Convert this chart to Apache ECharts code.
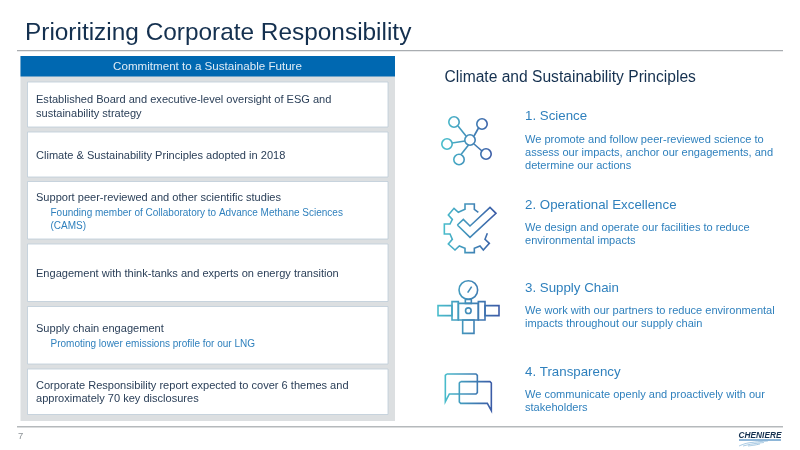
<!DOCTYPE html>
<html><head><meta charset="utf-8">
<style>html,body{margin:0;padding:0;background:#fff}#c{width:800px;height:450px}</style>
<script src="https://cdn.jsdelivr.net/npm/echarts@6/dist/echarts.min.js"></script>
</head><body><div id="c"></div>
<script>
var titleText = 'Prioritizing Corporate Responsibility';
var headerText = 'Commitment to a Sustainable Future';
var rightHeading = 'Climate and Sustainability Principles';
var pageNumber = '7';
var logoText = 'CHENIERE';
var leftBoxes = [
  {lines:['Established Board and executive-level oversight of ESG and','sustainability strategy'], sub:[]},
  {lines:['Climate & Sustainability Principles adopted in 2018'], sub:[]},
  {lines:['Support peer-reviewed and other scientific studies'], sub:['Founding member of Collaboratory to Advance Methane Sciences','(CAMS)']},
  {lines:['Engagement with think-tanks and experts on energy transition'], sub:[]},
  {lines:['Supply chain engagement'], sub:['Promoting lower emissions profile for our LNG']},
  {lines:['Corporate Responsibility report expected to cover 6 themes and','approximately 70 key disclosures'], sub:[]}
];
var principles = [
  {head:'1. Science', body:['We promote and follow peer-reviewed science to','assess our impacts, anchor our engagements, and','determine our actions']},
  {head:'2. Operational Excellence', body:['We design and operate our facilities to reduce','environmental impacts']},
  {head:'3. Supply Chain', body:['We work with our partners to reduce environmental','impacts throughout our supply chain']},
  {head:'4. Transparency', body:['We communicate openly and proactively with our','stakeholders']}
];

var FONT = '"Liberation Sans", Arial, sans-serif';
var DARK = '#14304f', BODY = '#2c4059', BLUE = '#2f80bd', HEADBLUE='#0068b1';
var els = [];
function rect(x,y,w,h,fill,stroke,lw){els.push({type:'rect',shape:{x:x,y:y,width:w,height:h},style:{fill:fill,stroke:stroke||null,lineWidth:lw||0},silent:true});}
function text(s,x,y,size,color,align,extra){els.push({type:'text',style:{text:s,x:x,y:y,fill:color,font:(extra||'')+' '+size+'px '+FONT,textAlign:align||'left',textVerticalAlign:'middle'},silent:true});}
function grad(x1,x2){return new echarts.graphic.LinearGradient(x1,0,x2,0,[{offset:0,color:'#48bccb'},{offset:1,color:'#3b5ba6'}],true);}
function ist(x1,x2){return {fill:'none',stroke:grad(x1,x2),lineWidth:1.6};}
function iCirc(cx,cy,r,a,b){els.push({type:'circle',shape:{cx:cx,cy:cy,r:r},style:ist(a,b),silent:true});}
function iPoly(pts,a,b){els.push({type:'polyline',shape:{points:pts},style:ist(a,b),silent:true});}
function iRect(x1,y1,x2,y2,a,b){els.push({type:'rect',shape:{x:x1,y:y1,width:x2-x1,height:y2-y1},style:ist(a,b),silent:true});}
function zp(ox,oy,pts){return pts.map(function(p){return [ox+p[0]/3,oy+p[1]/3];});}

// rules
rect(17,50,766,1.3,'#a9adb1');
rect(17,426,766,1.5,'#b5b9bc');
// left panel
rect(20.5,56,374.5,365,'#dcdfe1');
rect(20.5,56,374.5,20.5,HEADBLUE);
text(headerText,207.5,66.7,11.6,'#dfecf6','center');
var boxTops=[[82,127],[132,177],[181.5,239],[244,301.5],[306.5,364],[369,414.5]];
var lineYs=[[99.5,113.5],[155.5],[197.5],[274],[328.5],[385.5,398.5]];
var subYs=[[],[],[213.5,226.5],[],[344.5],[]];
leftBoxes.forEach(function(b,i){
  rect(27.5,boxTops[i][0],360.5,boxTops[i][1]-boxTops[i][0],'#fff','#bccbd8',0.8);
  b.lines.forEach(function(l,j){text(l,36,lineYs[i][j],11.05,BODY);});
  b.sub.forEach(function(l,j){text(l,50.5,subYs[i][j],10,BLUE);});
});
// title
text(titleText,25,33.5,24.4,DARK);
// right
text(rightHeading,444.5,77.5,15.6,DARK);
var headYs=[116,205,288,372];
var bodyYs=[[139.5,152.5,165.5],[227.5,240.5],[310.5,323.5],[394.5,407.5]];
principles.forEach(function(p,i){
  text(p.head,525,headYs[i],13.3,BLUE);
  p.body.forEach(function(l,j){text(l,525,bodyYs[i][j],11.05,BLUE);});
});
// icon 1: network
[[470,140,5.2],[454,122,5.2],[482,124,5.2],[447,144,5.2],[459,159.5,5.2],[486,154,5.2]].forEach(function(c){iCirc(c[0],c[1],c[2],445,492);});
[[[466,136],[458,126]],[[474,136],[478.5,128]],[[465,141],[452,143]],[[468.5,145],[461,154.5]],[[474,144],[482,151]]].forEach(function(l){iPoly(l,445,492);});
// icon 2: gear and check
iPoly(zp(430,100,[[145,337],[133,328],[133,312],[105,312],[105,328],[85,337],[72,325],[55,345],[67,358],[60,372],[43,372],[43,402],[60,402],[67,418],[55,432],[75,450],[88,438],[105,445],[105,458],[133,458],[133,445],[150,438],[160,450],[178,430],[165,418],[172,400]]),444,496);
iPoly(zp(430,100,[[82,375],[120,412],[198,340],[180,322],[120,378],[100,358],[82,375]]),444,496);
// icon 3: valve
function zr(a,b,c,d){iRect(430+a/3,270+b/3,430+c/3,270+d/3,438,499);}
iCirc(430+115/3,270+60/3,9.3,438,499);
iCirc(430+115/3,270+122/3,2.8,438,499);
iPoly(zp(430,270,[[113,68],[125,50]]),438,499);
zr(106,88,124,100);zr(85,100,145,150);zr(66,95,85,150);zr(145,95,165,150);zr(24,107,66,137);zr(165,107,207,137);zr(98,150,132,190);
// icon 4: speech bubbles
iPoly(zp(430,270,[[50,312],[138,312],[142,316],[142,368],[138,372],[58,372],[46,395],[46,316],[50,312]]),445,492);
iPoly(zp(430,270,[[92,335],[180,335],[184,339],[184,422],[172,400],[92,400],[88,396],[88,339],[92,335]]),445,492);
// page number and logo
text(pageNumber,18,436.5,9.5,'#8c9296');
text(logoText,760,435.5,8.3,'#14304f','center','italic bold');
rect(739,439.5,42,1,'#1f6fb2');
[[[739,446],[748,443],[768,441]],[[743,446],[752,444],[764,442.5]],[[748,446],[755,445],[760,444]]].forEach(function(l){
  els.push({type:'polyline',shape:{points:l,smooth:0.4},style:{fill:'none',stroke:'#7fb0d6',lineWidth:0.7},silent:true});
});

var chart = echarts.init(document.getElementById('c'),null,{renderer:'canvas',width:800,height:450});
chart.setOption({animation:false,backgroundColor:'#fff',graphic:{elements:els}});
</script></body></html>
